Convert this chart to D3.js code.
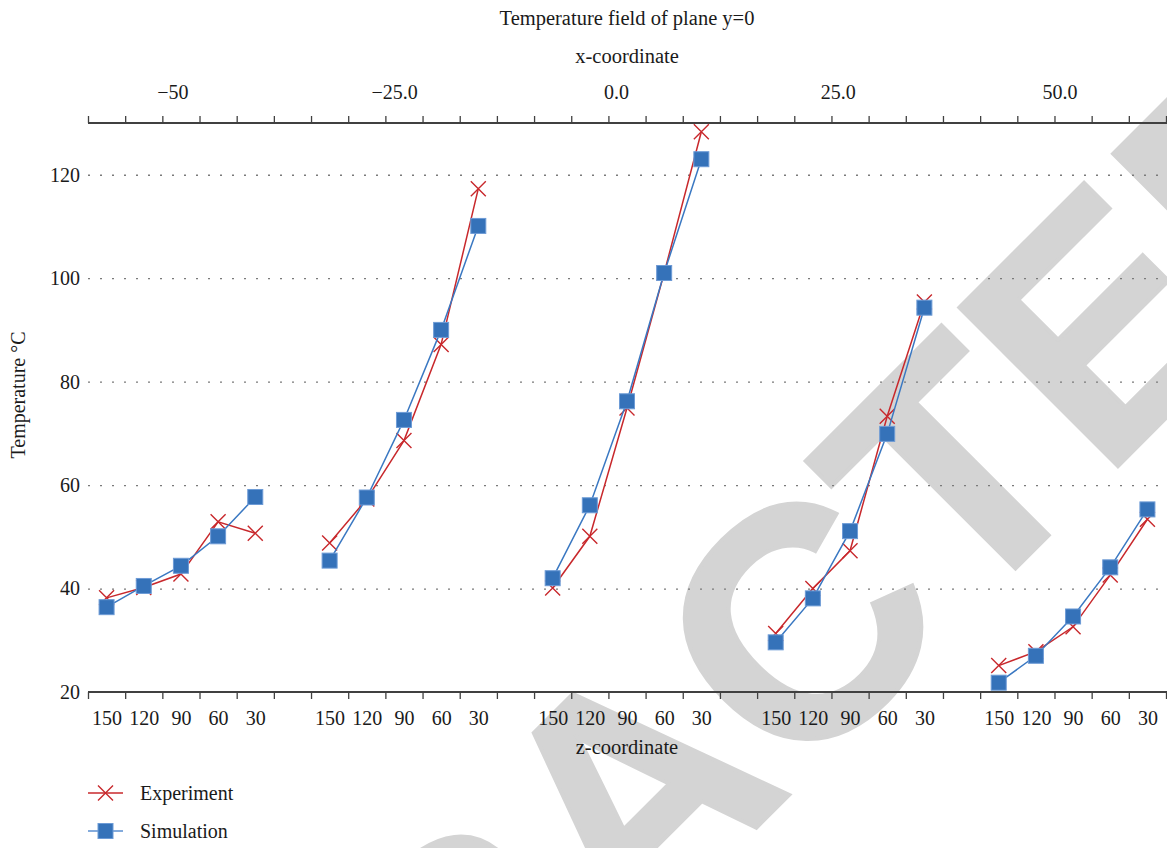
<!DOCTYPE html>
<html>
<head>
<meta charset="utf-8">
<script src="https://cdn.jsdelivr.net/npm/d3@7"></script>
<style>
  body { margin: 0; background: #ffffff; }
  svg text { font-family: "Liberation Serif", "Times New Roman", serif; fill: #1a1a1a; }
</style>
</head>
<body>
<svg id="chart" width="1167" height="848"></svg>
<script>
// z-coordinate positions within each x-group
const zLabels = ["150", "120", "90", "60", "30"];
// x-coordinate of each group (top axis)
const xGroupValues = [-50, -25, 0, 25, 50];
const xTickLabels = ["\u221250", "\u221225.0", "0.0", "25.0", "50.0"];
const yTicks = [20, 40, 60, 80, 100, 120];

// Temperatures (°C), one row per x-group, ordered as zLabels
const experiment = [
  [38.2, 40.2, 42.8, 52.9, 50.7],
  [48.8, 57.3, 68.6, 87.2, 117.3],
  [40.1, 50.1, 74.9, 101.0, 128.3],
  [31.3, 40.0, 47.3, 73.3, 95.4],
  [25.1, 27.8, 32.6, 42.6, 53.4]
];
const simulation = [
  [36.4, 40.5, 44.4, 50.1, 57.7],
  [45.4, 57.6, 72.6, 90.0, 110.1],
  [42.0, 56.1, 76.2, 101.0, 123.0],
  [29.6, 38.1, 51.1, 69.9, 94.3],
  [21.8, 27.0, 34.6, 44.1, 55.3]
];

const W = 1167, H = 848;
const plot = { left: 88, right: 1166, top: 123, bottom: 692 };
const slotsPerGroup = 6;              // 5 z-positions + 1 spacer
const slotCount = xGroupValues.length * slotsPerGroup - 1;

const RED = "#c8282c", BLUE = "#3a78c2", SQUARE = "#3572b9";

const svg = d3.select("#chart");

// Slot scale: integer = boundary between categories
const slot = d3.scaleLinear().domain([0, slotCount]).range([plot.left, plot.right]);
const y = d3.scaleLinear().domain([20, 130]).range([plot.bottom, plot.top]);
const xCoord = d3.scaleLinear().domain([-59.5, 62.0]).range([plot.left, plot.right]);

const px = (g, i) => slot(g * slotsPerGroup + i + 0.5);

// Watermark
svg.append("text")
  .attr("transform", "translate(712,872) rotate(-45)")
  .attr("text-anchor", "middle")
  .style("font-family", "'Liberation Sans', Arial, sans-serif")
  .style("font-weight", "bold")
  .style("font-size", "326px")
  .style("fill", "#d4d4d4")
  .style("stroke", "#d4d4d4")
  .style("stroke-width", "4px")
  .style("stroke-linejoin", "miter")
  .text("RETRACTED");

// Dotted gridlines
const grid = svg.append("g")
  .attr("transform", `translate(${plot.left},0)`)
  .call(d3.axisLeft(y).tickValues(yTicks.filter(v => v > 20))
    .tickSize(-(W - plot.left)).tickFormat(""));
grid.select(".domain").remove();
grid.selectAll(".tick line")
  .attr("stroke", "#7a7a7a").attr("stroke-width", 1.3)
  .attr("stroke-dasharray", "2,10");

// Y tick labels
const yAx = svg.append("g")
  .attr("transform", `translate(${plot.left},0)`)
  .call(d3.axisLeft(y).tickValues(yTicks).tickSize(0).tickPadding(8));
yAx.select(".domain").remove();
yAx.selectAll("text").style("font-size", "20px").attr("fill", "#1a1a1a");

// Bottom axis: category boundary ticks + z labels
const bottomTicks = svg.append("g")
  .attr("transform", `translate(0,${plot.bottom})`)
  .call(d3.axisBottom(slot).tickValues(d3.range(slotCount + 1)).tickSize(7)
    .tickSizeOuter(0).tickFormat(""));
bottomTicks.select(".domain").attr("d", `M${plot.left},0H${W}`)
  .attr("stroke", "#404040").attr("stroke-width", 2);
bottomTicks.selectAll(".tick line").attr("stroke", "#404040").attr("stroke-width", 1.3);

const zCenters = [], zText = new Map();
xGroupValues.forEach((_, g) => zLabels.forEach((lab, i) => {
  const c = g * slotsPerGroup + i + 0.5;
  zCenters.push(c); zText.set(c, lab);
}));
const bottomLabels = svg.append("g")
  .attr("transform", `translate(0,${plot.bottom})`)
  .call(d3.axisBottom(slot).tickValues(zCenters).tickSize(0).tickPadding(19)
    .tickFormat(d => zText.get(d)));
bottomLabels.select(".domain").remove();
bottomLabels.selectAll("text").style("font-size", "20px").attr("fill", "#1a1a1a");

// Top axis: boundary ticks + x-coordinate labels
const topTicks = svg.append("g")
  .attr("transform", `translate(0,${plot.top})`)
  .call(d3.axisTop(slot).tickValues(d3.range(slotCount + 1)).tickSize(7)
    .tickSizeOuter(0).tickFormat(""));
topTicks.select(".domain").attr("d", `M${plot.left},0H${W}`)
  .attr("stroke", "#404040").attr("stroke-width", 2);
topTicks.selectAll(".tick line").attr("stroke", "#404040").attr("stroke-width", 1.3);

const topLabels = svg.append("g")
  .attr("transform", `translate(0,${plot.top})`)
  .call(d3.axisTop(xCoord).tickValues(xGroupValues).tickSize(0).tickPadding(24)
    .tickFormat((d, i) => xTickLabels[i]));
topLabels.select(".domain").remove();
topLabels.selectAll("text").style("font-size", "20px").attr("fill", "#1a1a1a");

// Titles
svg.append("text").attr("x", 627).attr("y", 25).attr("text-anchor", "middle")
  .style("font-size", "20.5px").text("Temperature field of plane y=0");
svg.append("text").attr("x", 627).attr("y", 63).attr("text-anchor", "middle")
  .style("font-size", "20.5px").text("x-coordinate");
svg.append("text").attr("x", 627).attr("y", 754).attr("text-anchor", "middle")
  .style("font-size", "20.5px").text("z-coordinate");
svg.append("text").attr("transform", "translate(25,395) rotate(-90)")
  .attr("text-anchor", "middle").style("font-size", "20px").text("Temperature \u00B0C");

// Series
const line = d3.line().x(d => d.x).y(d => d.y);
const xPath = s => `M${-s},${-s}L${s},${s}M${-s},${s}L${s},${-s}`;

function groupPoints(rows) {
  return rows.map((vals, g) => vals.map((v, i) => ({ x: px(g, i), y: y(v) })));
}

const expG = svg.append("g");
groupPoints(experiment).forEach(pts => {
  expG.append("path").attr("d", line(pts)).attr("fill", "none")
    .attr("stroke", RED).attr("stroke-width", 1.5);
  expG.selectAll(null).data(pts).join("path")
    .attr("transform", d => `translate(${d.x},${d.y})`)
    .attr("d", xPath(7.5)).attr("stroke", RED).attr("stroke-width", 1.4).attr("fill", "none");
});

const simG = svg.append("g");
groupPoints(simulation).forEach(pts => {
  simG.append("path").attr("d", line(pts)).attr("fill", "none")
    .attr("stroke", BLUE).attr("stroke-width", 1.5);
  simG.selectAll(null).data(pts).join("rect")
    .attr("x", d => d.x - 7.5).attr("y", d => d.y - 7.5)
    .attr("width", 15).attr("height", 15)
    .attr("fill", SQUARE).attr("stroke", "#6d9bd6").attr("stroke-width", 1);
});

// Legend
const legend = svg.append("g");
const legendItems = [
  { name: "Experiment", color: RED, lineColor: RED, marker: "x", y: 793 },
  { name: "Simulation", color: SQUARE, lineColor: "#5b8fd0", marker: "square", y: 831 }
];
legendItems.forEach(it => {
  legend.append("line").attr("x1", 88).attr("x2", 123).attr("y1", it.y).attr("y2", it.y)
    .attr("stroke", it.lineColor).attr("stroke-width", 1.5);
  if (it.marker === "x") {
    legend.append("path").attr("transform", `translate(105.5,${it.y})`)
      .attr("d", xPath(7.5)).attr("stroke", it.color).attr("stroke-width", 1.4);
  } else {
    legend.append("rect").attr("x", 98).attr("y", it.y - 7.5).attr("width", 15).attr("height", 15)
      .attr("fill", it.color).attr("stroke", "#6d9bd6").attr("stroke-width", 1);
  }
  legend.append("text").attr("x", 140).attr("y", it.y + 7)
    .style("font-size", "20px").text(it.name);
});
</script>
</body>
</html>
